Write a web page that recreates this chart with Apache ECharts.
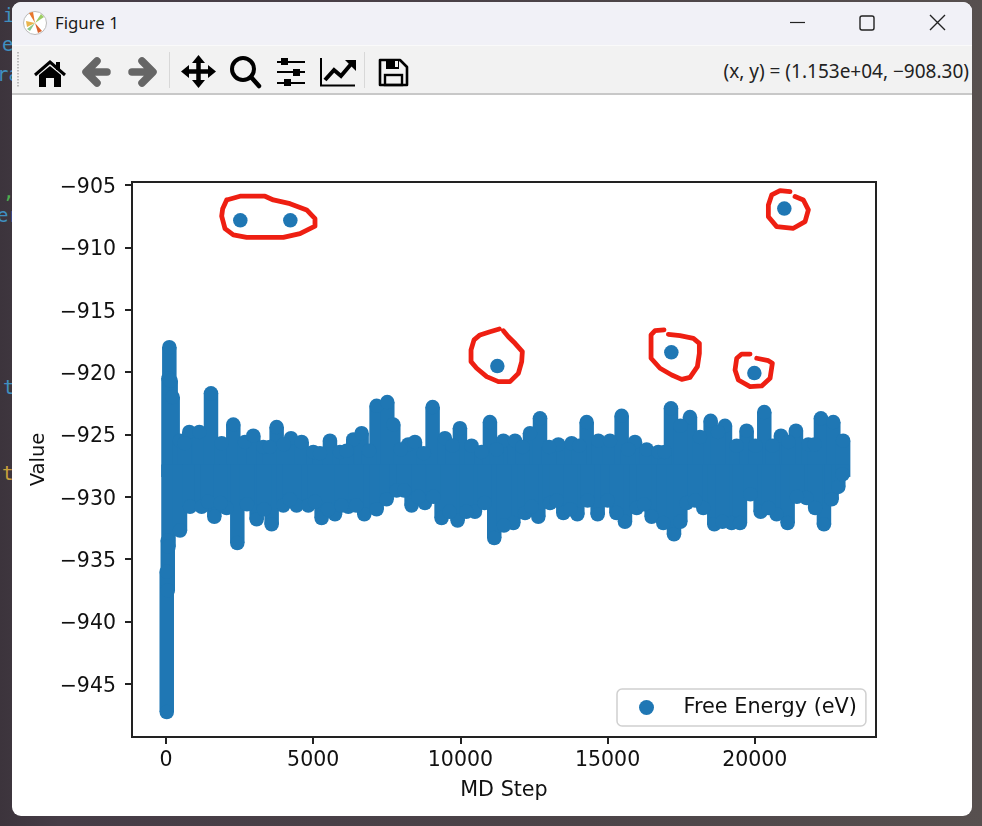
<!DOCTYPE html>
<html lang="en">

<head>
    <meta charset="UTF-8">
    <title>Figure 1</title>
    <script type="text/javascript" src="https://cdn.jsdelivr.net/npm/echarts@6/dist/echarts.min.js"></script>
    <style>
        html, body { margin: 0; padding: 0; width: 982px; height: 826px; overflow: hidden; }
        body { position: relative; background: linear-gradient(90deg, #3c343c 0, #463c46 6%, #4c4448 60%, #57504f 100%); font-family: "Noto Sans", sans-serif; }
        .code { position: absolute; font: 19px "DejaVu Sans Mono", monospace; color: #3f8fc0; }
        #win { position: absolute; left: 12px; top: 2px; width: 960px; height: 814px; background: #fff; border-radius: 9px; overflow: hidden; }
        #titlebar { position: absolute; left: 0; top: 0; width: 960px; height: 43px; background: #f1f1f7; }
        #titletext { position: absolute; left: 43px; top: 10px; font-size: 16.8px; line-height: 22px; color: #1a1a1a; }
        #toolbar { position: absolute; left: 0; top: 43px; width: 960px; background: #f2f2f2; border-top: 1px solid #fafafa; border-bottom: 2px solid #c8c8c8; box-sizing: content-box; height: 47px; }
        #coords { position: absolute; right: 3px; top: 58px; font-size: 19px; line-height: 22px; color: #222; white-space: nowrap; }
        svg.chrome { position: absolute; left: 0; top: 0; }
        #main { position: absolute; left: 0; top: 0; width: 982px; height: 826px; }
    </style>
</head>

<body>
    <span class="code" style="left:3px;top:4px">i</span>
    <span class="code" style="left:2px;top:33px">e</span>
    <span class="code" style="left:-3px;top:63px">ra</span>
    <span class="code" style="left:3px;top:180px;color:#4caf50">,</span>
    <span class="code" style="left:-3px;top:204px">er</span>
    <span class="code" style="left:3px;top:376px">t</span>
    <span class="code" style="left:2px;top:462px;color:#c9a13b">t</span>

    <div id="win">
        <div id="titlebar"></div>
        <div id="titletext">Figure 1</div>
        <div id="toolbar"></div>
        <div id="coords">(x, y) = (1.153e+04, −908.30)</div>
    </div>

    <svg class="chrome" width="982" height="100" viewBox="0 0 982 100">
        <!-- title bar icon -->
        <circle cx="35" cy="23" r="11.5" fill="#fff" stroke="#bbb"/>
        <path d="M35 23 L29 13 L33 12 Z" fill="#e8772e"/>
        <path d="M35 23 L26 21 L27 27 Z" fill="#e9b44c"/>
        <path d="M35 23 L42 31 L38 33 Z" fill="#d9622b"/>
        <path d="M35 23 L41 14 L44 17 Z" fill="#9ccc65"/>
        <path d="M35 23 L30 31 L27 29 Z" fill="#8bc98b"/>
        <!-- window buttons -->
        <line x1="790" y1="22.5" x2="805" y2="22.5" stroke="#222" stroke-width="1.2"/>
        <rect x="860" y="16" width="14" height="14" rx="2" fill="none" stroke="#222" stroke-width="1.4"/>
        <path d="M930 15 L945 30 M945 15 L930 30" stroke="#222" stroke-width="1.4"/>
        <!-- grip and separators -->
        <line x1="18" y1="52" x2="18" y2="88" stroke="#bbb" stroke-width="2" stroke-dasharray="1.5 1.5"/>
        <line x1="169.5" y1="52" x2="169.5" y2="88" stroke="#d8d8d8"/>
        <line x1="364.5" y1="52" x2="364.5" y2="88" stroke="#d8d8d8"/>
        <!-- home -->
        <path d="M35 75 L50 62 L65 75" fill="none" stroke="#000" stroke-width="3"/>
        <path d="M39 75 L50 66 L61 75 V87 H54 V78 H46 V87 H39 Z" fill="#000"/>
        <rect x="56" y="62" width="4" height="8" fill="#000"/>
        <!-- back / forward -->
        <path d="M107 72 H88 M97 61 L86 72 L97 83" fill="none" stroke="#666" stroke-width="7.5" stroke-linecap="round" stroke-linejoin="round"/>
        <path d="M132 72 H151 M142 61 L153 72 L142 83" fill="none" stroke="#666" stroke-width="7.5" stroke-linecap="round" stroke-linejoin="round"/>
        <!-- move -->
        <path d="M198.5 58 V85 M184 71.5 H213" stroke="#000" stroke-width="4.5"/>
        <path d="M198.5 55 L205 63 H192 Z M198.5 88 L205 80 H192 Z M181 71.5 L189 65 V78 Z M216 71.5 L208 65 V78 Z" fill="#000"/>
        <!-- zoom -->
        <circle cx="243" cy="69" r="11" fill="none" stroke="#000" stroke-width="4"/>
        <line x1="251" y1="77" x2="259" y2="86" stroke="#000" stroke-width="4.5" stroke-linecap="round"/>
        <!-- sliders -->
        <path d="M277 62 H305 M277 72 H305 M277 83 H305" stroke="#000" stroke-width="2"/>
        <rect x="281" y="58" width="7" height="7" fill="#000"/>
        <rect x="293" y="69" width="7" height="7" fill="#000"/>
        <rect x="284" y="79" width="7" height="7" fill="#000"/>
        <!-- subplots -->
        <path d="M321 58 V85.5 H355" fill="none" stroke="#000" stroke-width="2"/>
        <path d="M325 80 L334 70 L341 76 L352 63" fill="none" stroke="#000" stroke-width="4"/>
        <path d="M345 60 H356 V71 Z" fill="#000"/>
        <!-- save -->
        <path d="M380 60 H400 L407 67 V85 H380 Z" fill="none" stroke="#000" stroke-width="2.6" stroke-linejoin="round"/>
        <rect x="386" y="60" width="13" height="9" fill="#000"/>
        <rect x="395" y="61" width="3" height="6" fill="#f2f2f2"/>
        <rect x="385" y="75" width="17" height="10" fill="none" stroke="#000" stroke-width="2.4"/>
    </svg>

    <div id="main"></div>

    <script>
        // steps on x and energy on y
        var xTicks = [0, 5000, 10000, 15000, 20000];
        var yTicks = [-945, -940, -935, -930, -925, -920, -915, -910, -905];

        // first steps, the long relaxation tail
        var startSteps = [25, 60];
        var startLows = [-947.25, -937.5];
        var startHighs = [-936, -933.5];

        // top of the band, spikes
        var highSteps = [85, 113, 158, 226, 475, 792, 1132, 1528, 1890, 2286, 2682, 2965, 3305, 3758, 4245, 4607, 5003, 5229, 5569, 5909, 6361, 6644, 7154, 7516, 7720, 8229, 8456, 9056, 9474, 9984, 10380, 10720, 11003, 11459, 11855, 12364, 12704, 13327, 13779, 14289, 14685, 15081, 15477, 15930, 16326, 16723, 17153, 17798, 18138, 18500, 18987, 19383, 19722, 20322, 20888, 21398, 21817, 22247, 22666, 23000];
        var highValues = [-920.5, -918.0, -920.7, -922.0, -925.5, -924.8, -924.8, -921.7, -925.7, -924.2, -925.6, -925.1, -926.0, -924.4, -925.3, -925.6, -926.4, -926.5, -925.5, -926.4, -925.4, -924.9, -922.7, -922.4, -924.2, -925.8, -925.6, -922.8, -925.3, -924.5, -925.9, -926.4, -924.0, -925.5, -925.5, -924.9, -923.7, -925.8, -925.7, -924.0, -925.5, -925.5, -923.5, -925.6, -926.2, -926.4, -922.9, -923.6, -925.2, -923.9, -924.3, -925.9, -924.7, -923.2, -925.1, -924.7, -925.8, -923.7, -924.0, -925.5];
        // top of the band, dips between the spikes
        var highDipSteps = [633, 3530, 4000, 6135, 6900, 7975, 8756, 9730, 11230, 12110, 13015, 14034, 15700, 16940, 17475, 18750, 20020, 20600, 21140, 22030];
        var highDipValues = [-925.7, -926.0, -925.8, -926.3, -926.3, -926.2, -926.5, -925.9, -926.2, -926.0, -926.0, -925.9, -926.2, -926.4, -924.3, -924.8, -925.9, -925.9, -925.6, -925.8];

        // bottom of the band, spikes
        var lowSteps = [85, 475, 815, 1211, 1641, 2060, 2422, 3079, 3588, 3984, 4437, 4833, 5286, 5739, 6192, 6735, 7154, 7493, 7833, 8342, 8795, 9361, 9905, 10493, 11150, 11798, 12195, 12647, 13044, 13496, 13972, 14662, 15590, 15987, 16496, 16892, 17255, 17685, 18251, 18624, 19213, 19496, 20198, 20741, 21115, 21760, 22349, 22609, 22836, 22983];
        var lowValues = [-934, -932.7, -930.8, -930.8, -931.6, -930.9, -933.7, -931.8, -932.2, -930.7, -930.7, -930.7, -931.7, -931.4, -930.8, -931.4, -931.0, -930.2, -929.5, -930.7, -930.5, -931.7, -931.9, -931.2, -933.3, -932.1, -931.3, -931.6, -930.5, -931.3, -931.4, -931.4, -932.0, -930.9, -931.6, -932.1, -933.0, -930.5, -930.9, -932.2, -932.1, -932.1, -931.2, -931.4, -932.1, -930.1, -932.2, -930.2, -929.2, -928.2];
        // bottom of the band, dips between the spikes
        var lowDipSteps = [1430, 1850, 2750, 3330, 4210, 5060, 5510, 5965, 6460, 8090, 8570, 9080, 9630, 10200, 10820, 11480, 12420, 13270, 13735, 14320, 15000, 15300, 16240, 17470, 17970, 18900, 19850, 20470, 21430, 22050];
        var lowDipValues = [-930.4, -930.5, -930.6, -931.0, -930.2, -930.4, -931.0, -930.7, -930.7, -929.5, -930.0, -930.0, -931.2, -931.2, -930.5, -932.3, -930.8, -930.3, -931.0, -930.3, -930.3, -931.3, -930.6, -932.0, -930.3, -932.0, -929.8, -930.9, -930.0, -930.9];

        // the points circled by hand
        var outlierSteps = [2524, 4223, 11255, 17165, 19985, 21003];
        var outlierValues = [-907.83, -907.83, -919.51, -918.41, -920.08, -906.89];

        // red pen loops, in the same step / energy units
        var loopA = [[2061, -906.2], [2514, -905.9], [3363, -905.9], [3646, -906.2], [4212, -906.5], [4778, -907.0], [5061, -907.7], [5061, -908.3], [4552, -908.9], [3985, -909.2], [2740, -909.2], [2287, -909.0], [2004, -908.5], [1891, -907.5], [1925, -906.9], [2061, -906.2]];
        var loopB = [[21197, -905.53], [20857, -905.45], [20574, -905.8], [20461, -906.6], [20461, -907.54], [20744, -908.34], [21310, -908.47], [21707, -907.94], [21820, -907.0], [21650, -906.2], [21367, -905.93]];
        var loopC = [[11323, -916.54], [11006, -916.76], [10666, -917.02], [10463, -917.42], [10361, -918.22], [10361, -919.16], [10553, -919.69], [10893, -920.36], [11289, -920.76], [11685, -920.76], [11969, -920.10], [12082, -919.16], [12104, -918.36], [11855, -917.69], [11629, -917.16], [11459, -916.68]];
        var loopD = [[16917, -916.62], [16612, -916.67], [16476, -917.02], [16476, -918.89], [16781, -919.69], [17178, -920.23], [17517, -920.58], [17800, -920.42], [18050, -919.56], [18117, -918.49], [18117, -917.69], [17914, -917.29], [17461, -917.08], [17064, -916.97]];
        var loopE = [[19839, -918.55], [19555, -918.55], [19386, -918.89], [19329, -919.83], [19442, -920.63], [19839, -921.16], [20235, -921.11], [20518, -920.50], [20597, -919.29], [20461, -919.08], [20065, -918.89]];

        // columns from the top stop below the ones from the bottom, so they overlap
        var highColumnEnd = -928.4;
        var lowColumnEnd = -927.4;
        var blue = '#1f77b4';
        var markerSize = 14.5;
        var inkColor = '#ee1f12';
        var axisColor = '#222';
        var fontName = '"DejaVu Sans"';
        var legendName = 'Free Energy (eV)';

        var points = [];
        var columns = [];
        for (var i = 0; i < startSteps.length; i++) {
            points.push([startSteps[i], startLows[i]], [startSteps[i], startHighs[i]]);
            columns.push([startSteps[i], startLows[i], startHighs[i]]);
        }
        function addToBand(steps, values, columnEnd) {
            for (var i = 0; i < steps.length; i++) {
                points.push([steps[i], values[i]]);
                columns.push([steps[i], values[i], columnEnd]);
            }
        }
        addToBand(highSteps, highValues, highColumnEnd);
        addToBand(highDipSteps, highDipValues, highColumnEnd);
        addToBand(lowSteps, lowValues, lowColumnEnd);
        addToBand(lowDipSteps, lowDipValues, lowColumnEnd);
        for (var i = 0; i < outlierSteps.length; i++) {
            points.push([outlierSteps[i], outlierValues[i]]);
        }

        // the overplotted dots merge into a solid band, so fill between them
        function drawColumn(params, api) {
            var a = api.coord([api.value(0), api.value(1)]);
            var b = api.coord([api.value(0), api.value(2)]);
            return {
                type: 'rect',
                shape: {
                    x: a[0] - markerSize / 2,
                    y: Math.min(a[1], b[1]),
                    width: markerSize,
                    height: Math.abs(a[1] - b[1])
                },
                style: { fill: blue }
            };
        }

        function inkLine(loop) {
            return {
                type: 'line',
                data: loop,
                showSymbol: false,
                silent: true,
                z: 5,
                lineStyle: { color: inkColor, width: 4.8, cap: 'round', join: 'round' }
            };
        }

        var myChart = echarts.init(document.getElementById('main'), null, { renderer: 'canvas' });

        var option = {
            animation: false,
            backgroundColor: 'transparent',
            textStyle: { fontFamily: fontName },
            grid: {
                left: 132, top: 182, width: 744, height: 555,
                show: true, borderColor: axisColor, borderWidth: 2, backgroundColor: 'transparent'
            },
            legend: {
                left: 617, top: 689,
                data: [legendName],
                orient: 'horizontal',
                padding: [8, 9, 8, 22],
                itemWidth: 50, itemHeight: 15,
                backgroundColor: '#fff',
                borderColor: '#d0d0d0', borderWidth: 1.5, borderRadius: 5,
                selectedMode: false,
                textStyle: { color: '#111', fontSize: 20.8, fontFamily: fontName, padding: [0, 0, 3, 7] }
            },
            xAxis: {
                type: 'value',
                min: -1155, max: 24117,
                name: 'MD Step', nameLocation: 'center', nameGap: 43,
                nameTextStyle: { color: '#111', fontSize: 20.7, fontFamily: fontName },
                splitLine: { show: false },
                axisLine: { show: true, onZero: false, lineStyle: { color: axisColor, width: 2 } },
                axisTick: { show: true, length: 7, customValues: xTicks, lineStyle: { color: axisColor, width: 2 } },
                axisLabel: {
                    show: true, customValues: xTicks, margin: 13, color: '#111', fontSize: 20.5, fontFamily: fontName,
                    formatter: function (v) { return String(v); }
                }
            },
            yAxis: {
                type: 'value',
                min: -949.25, max: -904.76,
                name: 'Value', nameLocation: 'center', nameGap: 80,
                nameTextStyle: { color: '#111', fontSize: 19.5, fontFamily: fontName },
                splitLine: { show: false },
                axisLine: { show: true, onZero: false, lineStyle: { color: axisColor, width: 2 } },
                axisTick: { show: true, length: 7, customValues: yTicks, lineStyle: { color: axisColor, width: 2 } },
                axisLabel: {
                    show: true, customValues: yTicks, margin: 16, color: '#111', fontSize: 20.5, fontFamily: fontName,
                    verticalAlign: 'top', lineHeight: 5,
                    formatter: function (v) { return String(v).replace('-', '\u2212'); }
                }
            },
            series: [
                {
                    type: 'custom',
                    silent: true,
                    renderItem: drawColumn,
                    encode: { x: 0, y: [1, 2] },
                    data: columns,
                    z: 2
                },
                {
                    type: 'scatter',
                    name: legendName,
                    data: points,
                    symbol: 'circle',
                    symbolSize: markerSize,
                    silent: true,
                    itemStyle: { color: blue, opacity: 1 },
                    z: 3
                },
                inkLine(loopA),
                inkLine(loopB),
                inkLine(loopC),
                inkLine(loopD),
                inkLine(loopE)
            ]
        };
        myChart.setOption(option);
    </script>
</body>

</html>
